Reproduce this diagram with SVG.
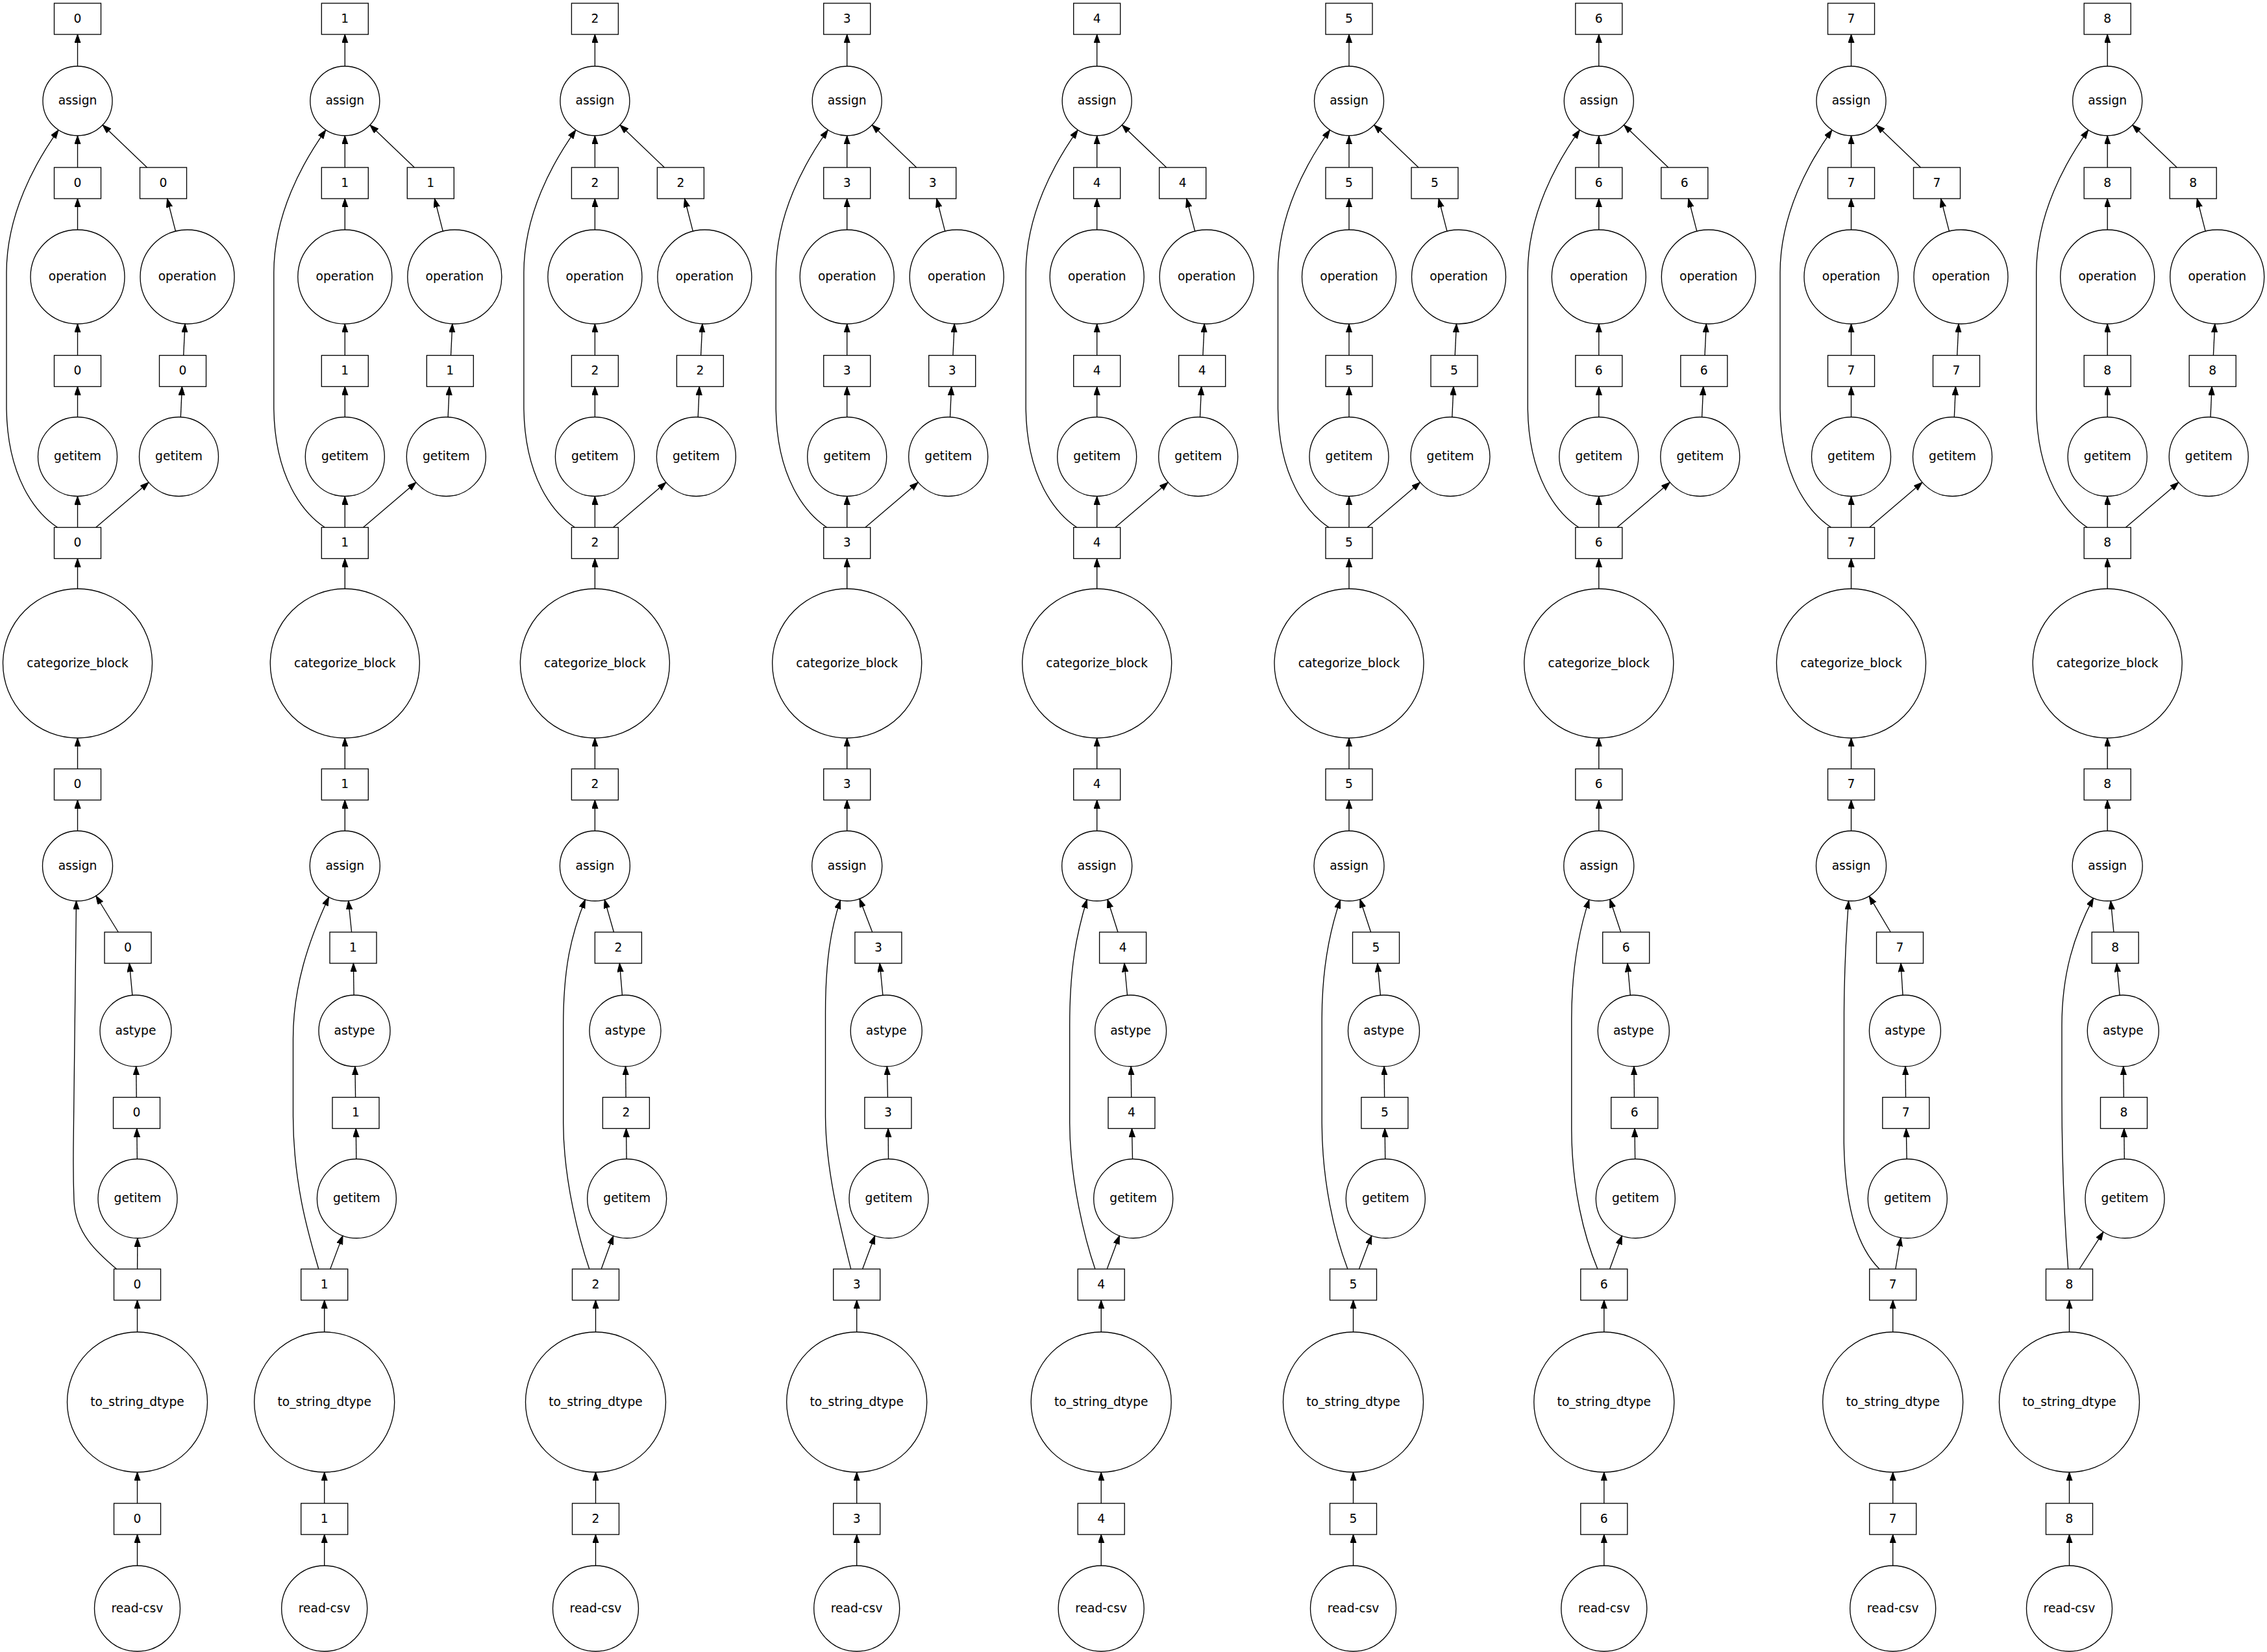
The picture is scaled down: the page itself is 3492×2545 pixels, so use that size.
<svg xmlns="http://www.w3.org/2000/svg" width="3492" height="2545" viewBox="0 0 3492 2545">
<style>
.n rect, .n circle { fill: none; stroke: #000; stroke-width: 1.33; }
.n text { font-family: "DejaVu Sans", "Liberation Sans", sans-serif; font-size: 18.67px; text-anchor: middle; fill: #000; }
#edges path { fill: none; stroke: #000; stroke-width: 1.33; marker-end: url(#ah); }
</style>
<defs>
<marker id="ah" viewBox="0 0 14 10" refX="13.33" refY="4.67" markerWidth="14" markerHeight="10" markerUnits="userSpaceOnUse" orient="auto">
<path d="M0,0 L13.33,4.67 L0,9.33 z" fill="#000" stroke="#000" stroke-width="1"/>
</marker>
<g id="topedges">
<path d="M0,102V53"/>
<path d="M0,258V209"/>
<path d="M0,354V306"/>
<path d="M0,547.5V499"/>
<path d="M0,642.5V595.5"/>
<path d="M0,812.5V764.5"/>
<path d="M0,907V860.5"/>
<path d="M0,1184.5V1137"/>
<path d="M0,1280V1232.5"/>
<path d="M107,258L38.6,192.5"/>
<path d="M151,356.3L138.1,306"/>
<path d="M163.2,547.5L165.5,498.9"/>
<path d="M158.8,642.6L160.9,595.5"/>
<path d="M28.2,812.5L109.6,743.1"/>
<path d="M-31,812.5C-65,790 -108,735 -109.5,630L-109.5,420C-109.5,330 -65,250 -29.5,200.3"/>
</g>
</defs>
<rect x="0" y="0" width="3492" height="2545" fill="#fff"/>

<g id="edges">
<g transform="translate(119.5,0)"><path d="M0,102V53"/><path d="M0,258V209"/><path d="M0,354V306"/><path d="M0,547.5V499"/><path d="M0,642.5V595.5"/><path d="M0,812.5V764.5"/><path d="M0,907V860.5"/><path d="M0,1184.5V1137"/><path d="M0,1280V1232.5"/><path d="M107,258L38.6,192.5"/><path d="M151,356.3L138.1,306"/><path d="M163.2,547.5L165.5,498.9"/><path d="M158.8,642.6L160.9,595.5"/><path d="M28.2,812.5L109.6,743.1"/><path d="M-31,812.5C-65,790 -108,735 -109.5,630L-109.5,420C-109.5,330 -65,250 -29.5,200.3"/></g>
<g transform="translate(531.3,0)"><path d="M0,102V53"/><path d="M0,258V209"/><path d="M0,354V306"/><path d="M0,547.5V499"/><path d="M0,642.5V595.5"/><path d="M0,812.5V764.5"/><path d="M0,907V860.5"/><path d="M0,1184.5V1137"/><path d="M0,1280V1232.5"/><path d="M107,258L38.6,192.5"/><path d="M151,356.3L138.1,306"/><path d="M163.2,547.5L165.5,498.9"/><path d="M158.8,642.6L160.9,595.5"/><path d="M28.2,812.5L109.6,743.1"/><path d="M-31,812.5C-65,790 -108,735 -109.5,630L-109.5,420C-109.5,330 -65,250 -29.5,200.3"/></g>
<g transform="translate(916.4,0)"><path d="M0,102V53"/><path d="M0,258V209"/><path d="M0,354V306"/><path d="M0,547.5V499"/><path d="M0,642.5V595.5"/><path d="M0,812.5V764.5"/><path d="M0,907V860.5"/><path d="M0,1184.5V1137"/><path d="M0,1280V1232.5"/><path d="M107,258L38.6,192.5"/><path d="M151,356.3L138.1,306"/><path d="M163.2,547.5L165.5,498.9"/><path d="M158.8,642.6L160.9,595.5"/><path d="M28.2,812.5L109.6,743.1"/><path d="M-31,812.5C-65,790 -108,735 -109.5,630L-109.5,420C-109.5,330 -65,250 -29.5,200.3"/></g>
<g transform="translate(1304.7,0)"><path d="M0,102V53"/><path d="M0,258V209"/><path d="M0,354V306"/><path d="M0,547.5V499"/><path d="M0,642.5V595.5"/><path d="M0,812.5V764.5"/><path d="M0,907V860.5"/><path d="M0,1184.5V1137"/><path d="M0,1280V1232.5"/><path d="M107,258L38.6,192.5"/><path d="M151,356.3L138.1,306"/><path d="M163.2,547.5L165.5,498.9"/><path d="M158.8,642.6L160.9,595.5"/><path d="M28.2,812.5L109.6,743.1"/><path d="M-31,812.5C-65,790 -108,735 -109.5,630L-109.5,420C-109.5,330 -65,250 -29.5,200.3"/></g>
<g transform="translate(1689.7,0)"><path d="M0,102V53"/><path d="M0,258V209"/><path d="M0,354V306"/><path d="M0,547.5V499"/><path d="M0,642.5V595.5"/><path d="M0,812.5V764.5"/><path d="M0,907V860.5"/><path d="M0,1184.5V1137"/><path d="M0,1280V1232.5"/><path d="M107,258L38.6,192.5"/><path d="M151,356.3L138.1,306"/><path d="M163.2,547.5L165.5,498.9"/><path d="M158.8,642.6L160.9,595.5"/><path d="M28.2,812.5L109.6,743.1"/><path d="M-31,812.5C-65,790 -108,735 -109.5,630L-109.5,420C-109.5,330 -65,250 -29.5,200.3"/></g>
<g transform="translate(2078,0)"><path d="M0,102V53"/><path d="M0,258V209"/><path d="M0,354V306"/><path d="M0,547.5V499"/><path d="M0,642.5V595.5"/><path d="M0,812.5V764.5"/><path d="M0,907V860.5"/><path d="M0,1184.5V1137"/><path d="M0,1280V1232.5"/><path d="M107,258L38.6,192.5"/><path d="M151,356.3L138.1,306"/><path d="M163.2,547.5L165.5,498.9"/><path d="M158.8,642.6L160.9,595.5"/><path d="M28.2,812.5L109.6,743.1"/><path d="M-31,812.5C-65,790 -108,735 -109.5,630L-109.5,420C-109.5,330 -65,250 -29.5,200.3"/></g>
<g transform="translate(2462.8,0)"><path d="M0,102V53"/><path d="M0,258V209"/><path d="M0,354V306"/><path d="M0,547.5V499"/><path d="M0,642.5V595.5"/><path d="M0,812.5V764.5"/><path d="M0,907V860.5"/><path d="M0,1184.5V1137"/><path d="M0,1280V1232.5"/><path d="M107,258L38.6,192.5"/><path d="M151,356.3L138.1,306"/><path d="M163.2,547.5L165.5,498.9"/><path d="M158.8,642.6L160.9,595.5"/><path d="M28.2,812.5L109.6,743.1"/><path d="M-31,812.5C-65,790 -108,735 -109.5,630L-109.5,420C-109.5,330 -65,250 -29.5,200.3"/></g>
<g transform="translate(2851.5,0)"><path d="M0,102V53"/><path d="M0,258V209"/><path d="M0,354V306"/><path d="M0,547.5V499"/><path d="M0,642.5V595.5"/><path d="M0,812.5V764.5"/><path d="M0,907V860.5"/><path d="M0,1184.5V1137"/><path d="M0,1280V1232.5"/><path d="M107,258L38.6,192.5"/><path d="M151,356.3L138.1,306"/><path d="M163.2,547.5L165.5,498.9"/><path d="M158.8,642.6L160.9,595.5"/><path d="M28.2,812.5L109.6,743.1"/><path d="M-31,812.5C-65,790 -108,735 -109.5,630L-109.5,420C-109.5,330 -65,250 -29.5,200.3"/></g>
<g transform="translate(3246.2,0)"><path d="M0,102V53"/><path d="M0,258V209"/><path d="M0,354V306"/><path d="M0,547.5V499"/><path d="M0,642.5V595.5"/><path d="M0,812.5V764.5"/><path d="M0,907V860.5"/><path d="M0,1184.5V1137"/><path d="M0,1280V1232.5"/><path d="M107,258L38.6,192.5"/><path d="M151,356.3L138.1,306"/><path d="M163.2,547.5L165.5,498.9"/><path d="M158.8,642.6L160.9,595.5"/><path d="M28.2,812.5L109.6,743.1"/><path d="M-31,812.5C-65,790 -108,735 -109.5,630L-109.5,420C-109.5,330 -65,250 -29.5,200.3"/></g>

<path d="M182.2,1436L147.8,1380"/>
<path d="M203.9,1533.2L199.3,1484"/>
<path d="M210.2,1690.5L209.7,1643"/>
<path d="M211.3,1785.5L210.8,1738.5"/>
<path d="M211.6,1955L211.8,1907.5"/>
<path d="M211.5,2052V2003"/>
<path d="M211.5,2316V2268"/>
<path d="M211.5,2412V2364"/>
<path d="M179.5,1955C150,1930 116,1900 114,1850C112.5,1810 113,1790 113,1770L117.5,1388"/>

<path d="M541.6,1436L536.7,1387.7"/>
<path d="M545.1,1533L544.4,1484"/>
<path d="M547.6,1690.5L546.9,1643"/>
<path d="M548.8,1785.5L548.3,1738.5"/>
<path d="M508.7,1955L528,1903.6"/>
<path d="M499.7,2052V2003"/>
<path d="M499.7,2316V2268"/>
<path d="M499.7,2412V2364"/>
<path d="M490.8,1955C478,1910 452,1830 451.5,1720L451.5,1600C451.5,1520 475,1450 506.5,1382"/>

<path d="M945.5,1436L931.2,1385.9"/>
<path d="M958.5,1533.2L954.4,1484"/>
<path d="M964.1,1690.5L963.6,1643"/>
<path d="M965.1,1785.5L964.6,1738.5"/>
<path d="M926.2,1955L944.8,1903.8"/>
<path d="M917.5,2052V2003"/>
<path d="M917.5,2316V2268"/>
<path d="M917.5,2412V2364"/>
<path d="M907.8,1955C893,1912 868,1820 867.7,1730L867.7,1580C867.7,1490 880,1440 901.4,1385.9"/>

<path d="M1343.7,1436L1324,1384.4"/>
<path d="M1359.9,1533.3L1355.2,1484"/>
<path d="M1367.4,1690.5L1366.4,1643"/>
<path d="M1368.5,1785.5L1368.1,1738.5"/>
<path d="M1328.6,1955L1347.7,1903.7"/>
<path d="M1319.7,2052V2003"/>
<path d="M1319.7,2316V2268"/>
<path d="M1319.7,2412V2364"/>
<path d="M1310.7,1955C1292,1880 1272,1800 1271.5,1720L1271.5,1560C1271.5,1480 1280,1430 1294.5,1387"/>

<path d="M1722,1436L1706,1385.5"/>
<path d="M1736.5,1533.2L1731.9,1484"/>
<path d="M1742.7,1690.5L1742.2,1643"/>
<path d="M1744.5,1785.5L1743.5,1738.5"/>
<path d="M1705.2,1955L1724.4,1903.6"/>
<path d="M1696.2,2052V2003"/>
<path d="M1696.2,2316V2268"/>
<path d="M1696.2,2412V2364"/>
<path d="M1686.9,1955C1672,1912 1648,1820 1647.7,1730L1647.7,1580C1647.7,1490 1658,1440 1674.3,1385.8"/>

<path d="M2111.6,1436L2094.9,1385.3"/>
<path d="M2126.4,1533.2L2121.8,1484"/>
<path d="M2132.6,1690.5L2132.1,1643"/>
<path d="M2133.7,1785.5L2133.2,1738.5"/>
<path d="M2093.5,1955L2112.8,1903.6"/>
<path d="M2084.5,2052V2003"/>
<path d="M2084.5,2316V2268"/>
<path d="M2084.5,2412V2364"/>
<path d="M2075.9,1955C2055,1900 2036.5,1820 2036.2,1730L2036.2,1570C2036.2,1500 2046,1440 2064.6,1386.3"/>

<path d="M2496.7,1436L2479.8,1385.2"/>
<path d="M2511.3,1533.2L2506.9,1484"/>
<path d="M2517.4,1690.5L2516.9,1643"/>
<path d="M2518.6,1785.5L2518,1738.5"/>
<path d="M2479.6,1955L2498.3,1903.8"/>
<path d="M2470.8,2052V2003"/>
<path d="M2470.8,2316V2268"/>
<path d="M2470.8,2412V2364"/>
<path d="M2460.9,1955C2440,1905 2421,1830 2420.8,1740L2420.8,1570C2420.8,1500 2430,1440 2447.9,1385.9"/>

<path d="M2912.2,1436L2879.1,1380.4"/>
<path d="M2931,1533.1L2928,1484"/>
<path d="M2935.5,1690.5L2935,1643"/>
<path d="M2937.1,1785.5L2936.3,1738.5"/>
<path d="M2919.8,1955L2928,1906.6"/>
<path d="M2915.7,2052V2003"/>
<path d="M2915.7,2316V2268"/>
<path d="M2915.7,2412V2364"/>
<path d="M2895,1955C2865,1925 2842,1870 2840.3,1760L2840.5,1560C2840.8,1500 2843,1450 2847.5,1387.9"/>

<path d="M3255.9,1436L3251.3,1387.8"/>
<path d="M3265.1,1533.2L3260.5,1484"/>
<path d="M3271.3,1690.5L3270.8,1643"/>
<path d="M3272.3,1785.5L3271.8,1738.5"/>
<path d="M3203,1955L3239.9,1897.8"/>
<path d="M3187.5,2052V2003"/>
<path d="M3187.5,2316V2268"/>
<path d="M3187.5,2412V2364"/>
<path d="M3185.7,1955C3180,1880 3176,1780 3176,1690L3176,1580C3176,1500 3195,1440 3224.6,1383.6"/>
</g>

<g id="col0" transform="translate(119.5,0)">
<g id="c0-out" class="n"><rect x="-36" y="5" width="72" height="48"/><text y="34.8">0</text></g>
<g id="c0-assign1" class="n"><circle cy="155.5" r="53.5"/><text y="161.3">assign</text></g>
<g id="c0-k2a" class="n"><rect x="-36" y="258" width="72" height="48"/><text y="287.8">0</text></g>
<g id="c0-k2b" class="n"><rect x="96" y="258" width="72" height="48"/><text x="132" y="287.8">0</text></g>
<g id="c0-op-a" class="n"><circle cy="426.5" r="72.5"/><text y="432.3">operation</text></g>
<g id="c0-op-b" class="n"><circle cx="169" cy="426.5" r="72.5"/><text x="169" y="432.3">operation</text></g>
<g id="c0-k4a" class="n"><rect x="-36" y="547.5" width="72" height="48"/><text y="577.3">0</text></g>
<g id="c0-k4b" class="n"><rect x="126" y="547.5" width="72" height="48"/><text x="162" y="577.3">0</text></g>
<g id="c0-get1a" class="n"><circle cy="703.5" r="61"/><text y="709.3">getitem</text></g>
<g id="c0-get1b" class="n"><circle cx="156" cy="703.5" r="61"/><text x="156" y="709.3">getitem</text></g>
<g id="c0-k6" class="n"><rect x="-36" y="812.5" width="72" height="48"/><text y="842.3">0</text></g>
<g id="c0-cat" class="n"><circle cy="1022" r="115"/><text y="1027.8">categorize_block</text></g>
<g id="c0-k8" class="n"><rect x="-36" y="1184.5" width="72" height="48"/><text y="1214.3">0</text></g>
<g id="c0-assign2" class="n"><circle cy="1334" r="54"/><text y="1339.8">assign</text></g>
<g id="c0-k10" class="n"><rect x="41.5" y="1436" width="72" height="48"/><text x="77.5" y="1465.8">0</text></g>
<g id="c0-astype" class="n"><circle cx="89.5" cy="1588" r="55"/><text x="89.5" y="1593.8">astype</text></g>
<g id="c0-k12" class="n"><rect x="55" y="1690.5" width="72" height="48"/><text x="91" y="1720.3">0</text></g>
<g id="c0-get2" class="n"><circle cx="92.5" cy="1846.5" r="61"/><text x="92.5" y="1852.3">getitem</text></g>
<g id="c0-k14" class="n"><rect x="56" y="1955" width="72" height="48"/><text x="92" y="1984.8">0</text></g>
<g id="c0-tostr" class="n"><circle cx="92" cy="2160" r="108"/><text x="92" y="2165.8">to_string_dtype</text></g>
<g id="c0-k16" class="n"><rect x="56" y="2316" width="72" height="48"/><text x="92" y="2345.8">0</text></g>
<g id="c0-read" class="n"><circle cx="92" cy="2478" r="66"/><text x="92" y="2483.8">read-csv</text></g>
</g>

<g id="col1" transform="translate(531.3,0)">
<g id="c1-out" class="n"><rect x="-36" y="5" width="72" height="48"/><text y="34.8">1</text></g>
<g id="c1-assign1" class="n"><circle cy="155.5" r="53.5"/><text y="161.3">assign</text></g>
<g id="c1-k2a" class="n"><rect x="-36" y="258" width="72" height="48"/><text y="287.8">1</text></g>
<g id="c1-k2b" class="n"><rect x="96" y="258" width="72" height="48"/><text x="132" y="287.8">1</text></g>
<g id="c1-op-a" class="n"><circle cy="426.5" r="72.5"/><text y="432.3">operation</text></g>
<g id="c1-op-b" class="n"><circle cx="169" cy="426.5" r="72.5"/><text x="169" y="432.3">operation</text></g>
<g id="c1-k4a" class="n"><rect x="-36" y="547.5" width="72" height="48"/><text y="577.3">1</text></g>
<g id="c1-k4b" class="n"><rect x="126" y="547.5" width="72" height="48"/><text x="162" y="577.3">1</text></g>
<g id="c1-get1a" class="n"><circle cy="703.5" r="61"/><text y="709.3">getitem</text></g>
<g id="c1-get1b" class="n"><circle cx="156" cy="703.5" r="61"/><text x="156" y="709.3">getitem</text></g>
<g id="c1-k6" class="n"><rect x="-36" y="812.5" width="72" height="48"/><text y="842.3">1</text></g>
<g id="c1-cat" class="n"><circle cy="1022" r="115"/><text y="1027.8">categorize_block</text></g>
<g id="c1-k8" class="n"><rect x="-36" y="1184.5" width="72" height="48"/><text y="1214.3">1</text></g>
<g id="c1-assign2" class="n"><circle cy="1334" r="54"/><text y="1339.8">assign</text></g>
<g id="c1-k10" class="n"><rect x="-23.3" y="1436" width="72" height="48"/><text x="12.7" y="1465.8">1</text></g>
<g id="c1-astype" class="n"><circle cx="14.7" cy="1588" r="55"/><text x="14.7" y="1593.8">astype</text></g>
<g id="c1-k12" class="n"><rect x="-19.3" y="1690.5" width="72" height="48"/><text x="16.7" y="1720.3">1</text></g>
<g id="c1-get2" class="n"><circle cx="18.1" cy="1846.5" r="61"/><text x="18.1" y="1852.3">getitem</text></g>
<g id="c1-k14" class="n"><rect x="-67.6" y="1955" width="72" height="48"/><text x="-31.6" y="1984.8">1</text></g>
<g id="c1-tostr" class="n"><circle cx="-31.6" cy="2160" r="108"/><text x="-31.6" y="2165.8">to_string_dtype</text></g>
<g id="c1-k16" class="n"><rect x="-67.6" y="2316" width="72" height="48"/><text x="-31.6" y="2345.8">1</text></g>
<g id="c1-read" class="n"><circle cx="-31.6" cy="2478" r="66"/><text x="-31.6" y="2483.8">read-csv</text></g>
</g>

<g id="col2" transform="translate(916.4,0)">
<g id="c2-out" class="n"><rect x="-36" y="5" width="72" height="48"/><text y="34.8">2</text></g>
<g id="c2-assign1" class="n"><circle cy="155.5" r="53.5"/><text y="161.3">assign</text></g>
<g id="c2-k2a" class="n"><rect x="-36" y="258" width="72" height="48"/><text y="287.8">2</text></g>
<g id="c2-k2b" class="n"><rect x="96" y="258" width="72" height="48"/><text x="132" y="287.8">2</text></g>
<g id="c2-op-a" class="n"><circle cy="426.5" r="72.5"/><text y="432.3">operation</text></g>
<g id="c2-op-b" class="n"><circle cx="169" cy="426.5" r="72.5"/><text x="169" y="432.3">operation</text></g>
<g id="c2-k4a" class="n"><rect x="-36" y="547.5" width="72" height="48"/><text y="577.3">2</text></g>
<g id="c2-k4b" class="n"><rect x="126" y="547.5" width="72" height="48"/><text x="162" y="577.3">2</text></g>
<g id="c2-get1a" class="n"><circle cy="703.5" r="61"/><text y="709.3">getitem</text></g>
<g id="c2-get1b" class="n"><circle cx="156" cy="703.5" r="61"/><text x="156" y="709.3">getitem</text></g>
<g id="c2-k6" class="n"><rect x="-36" y="812.5" width="72" height="48"/><text y="842.3">2</text></g>
<g id="c2-cat" class="n"><circle cy="1022" r="115"/><text y="1027.8">categorize_block</text></g>
<g id="c2-k8" class="n"><rect x="-36" y="1184.5" width="72" height="48"/><text y="1214.3">2</text></g>
<g id="c2-assign2" class="n"><circle cy="1334" r="54"/><text y="1339.8">assign</text></g>
<g id="c2-k10" class="n"><rect x="0" y="1436" width="72" height="48"/><text x="36" y="1465.8">2</text></g>
<g id="c2-astype" class="n"><circle cx="46.6" cy="1588" r="55"/><text x="46.6" y="1593.8">astype</text></g>
<g id="c2-k12" class="n"><rect x="12" y="1690.5" width="72" height="48"/><text x="48" y="1720.3">2</text></g>
<g id="c2-get2" class="n"><circle cx="49.3" cy="1846.5" r="61"/><text x="49.3" y="1852.3">getitem</text></g>
<g id="c2-k14" class="n"><rect x="-34.9" y="1955" width="72" height="48"/><text x="1.1" y="1984.8">2</text></g>
<g id="c2-tostr" class="n"><circle cx="1.1" cy="2160" r="108"/><text x="1.1" y="2165.8">to_string_dtype</text></g>
<g id="c2-k16" class="n"><rect x="-34.9" y="2316" width="72" height="48"/><text x="1.1" y="2345.8">2</text></g>
<g id="c2-read" class="n"><circle cx="1.1" cy="2478" r="66"/><text x="1.1" y="2483.8">read-csv</text></g>
</g>

<g id="col3" transform="translate(1304.7,0)">
<g id="c3-out" class="n"><rect x="-36" y="5" width="72" height="48"/><text y="34.8">3</text></g>
<g id="c3-assign1" class="n"><circle cy="155.5" r="53.5"/><text y="161.3">assign</text></g>
<g id="c3-k2a" class="n"><rect x="-36" y="258" width="72" height="48"/><text y="287.8">3</text></g>
<g id="c3-k2b" class="n"><rect x="96" y="258" width="72" height="48"/><text x="132" y="287.8">3</text></g>
<g id="c3-op-a" class="n"><circle cy="426.5" r="72.5"/><text y="432.3">operation</text></g>
<g id="c3-op-b" class="n"><circle cx="169" cy="426.5" r="72.5"/><text x="169" y="432.3">operation</text></g>
<g id="c3-k4a" class="n"><rect x="-36" y="547.5" width="72" height="48"/><text y="577.3">3</text></g>
<g id="c3-k4b" class="n"><rect x="126" y="547.5" width="72" height="48"/><text x="162" y="577.3">3</text></g>
<g id="c3-get1a" class="n"><circle cy="703.5" r="61"/><text y="709.3">getitem</text></g>
<g id="c3-get1b" class="n"><circle cx="156" cy="703.5" r="61"/><text x="156" y="709.3">getitem</text></g>
<g id="c3-k6" class="n"><rect x="-36" y="812.5" width="72" height="48"/><text y="842.3">3</text></g>
<g id="c3-cat" class="n"><circle cy="1022" r="115"/><text y="1027.8">categorize_block</text></g>
<g id="c3-k8" class="n"><rect x="-36" y="1184.5" width="72" height="48"/><text y="1214.3">3</text></g>
<g id="c3-assign2" class="n"><circle cy="1334" r="54"/><text y="1339.8">assign</text></g>
<g id="c3-k10" class="n"><rect x="12.2" y="1436" width="72" height="48"/><text x="48.2" y="1465.8">3</text></g>
<g id="c3-astype" class="n"><circle cx="60.5" cy="1588" r="55"/><text x="60.5" y="1593.8">astype</text></g>
<g id="c3-k12" class="n"><rect x="27.2" y="1690.5" width="72" height="48"/><text x="63.2" y="1720.3">3</text></g>
<g id="c3-get2" class="n"><circle cx="64.3" cy="1846.5" r="61"/><text x="64.3" y="1852.3">getitem</text></g>
<g id="c3-k14" class="n"><rect x="-21" y="1955" width="72" height="48"/><text x="15" y="1984.8">3</text></g>
<g id="c3-tostr" class="n"><circle cx="15" cy="2160" r="108"/><text x="15" y="2165.8">to_string_dtype</text></g>
<g id="c3-k16" class="n"><rect x="-21" y="2316" width="72" height="48"/><text x="15" y="2345.8">3</text></g>
<g id="c3-read" class="n"><circle cx="15" cy="2478" r="66"/><text x="15" y="2483.8">read-csv</text></g>
</g>

<g id="col4" transform="translate(1689.7,0)">
<g id="c4-out" class="n"><rect x="-36" y="5" width="72" height="48"/><text y="34.8">4</text></g>
<g id="c4-assign1" class="n"><circle cy="155.5" r="53.5"/><text y="161.3">assign</text></g>
<g id="c4-k2a" class="n"><rect x="-36" y="258" width="72" height="48"/><text y="287.8">4</text></g>
<g id="c4-k2b" class="n"><rect x="96" y="258" width="72" height="48"/><text x="132" y="287.8">4</text></g>
<g id="c4-op-a" class="n"><circle cy="426.5" r="72.5"/><text y="432.3">operation</text></g>
<g id="c4-op-b" class="n"><circle cx="169" cy="426.5" r="72.5"/><text x="169" y="432.3">operation</text></g>
<g id="c4-k4a" class="n"><rect x="-36" y="547.5" width="72" height="48"/><text y="577.3">4</text></g>
<g id="c4-k4b" class="n"><rect x="126" y="547.5" width="72" height="48"/><text x="162" y="577.3">4</text></g>
<g id="c4-get1a" class="n"><circle cy="703.5" r="61"/><text y="709.3">getitem</text></g>
<g id="c4-get1b" class="n"><circle cx="156" cy="703.5" r="61"/><text x="156" y="709.3">getitem</text></g>
<g id="c4-k6" class="n"><rect x="-36" y="812.5" width="72" height="48"/><text y="842.3">4</text></g>
<g id="c4-cat" class="n"><circle cy="1022" r="115"/><text y="1027.8">categorize_block</text></g>
<g id="c4-k8" class="n"><rect x="-36" y="1184.5" width="72" height="48"/><text y="1214.3">4</text></g>
<g id="c4-assign2" class="n"><circle cy="1334" r="54"/><text y="1339.8">assign</text></g>
<g id="c4-k10" class="n"><rect x="3.9" y="1436" width="72" height="48"/><text x="39.9" y="1465.8">4</text></g>
<g id="c4-astype" class="n"><circle cx="51.9" cy="1588" r="55"/><text x="51.9" y="1593.8">astype</text></g>
<g id="c4-k12" class="n"><rect x="17.3" y="1690.5" width="72" height="48"/><text x="53.3" y="1720.3">4</text></g>
<g id="c4-get2" class="n"><circle cx="56" cy="1846.5" r="61"/><text x="56" y="1852.3">getitem</text></g>
<g id="c4-k14" class="n"><rect x="-29.5" y="1955" width="72" height="48"/><text x="6.5" y="1984.8">4</text></g>
<g id="c4-tostr" class="n"><circle cx="6.5" cy="2160" r="108"/><text x="6.5" y="2165.8">to_string_dtype</text></g>
<g id="c4-k16" class="n"><rect x="-29.5" y="2316" width="72" height="48"/><text x="6.5" y="2345.8">4</text></g>
<g id="c4-read" class="n"><circle cx="6.5" cy="2478" r="66"/><text x="6.5" y="2483.8">read-csv</text></g>
</g>

<g id="col5" transform="translate(2078,0)">
<g id="c5-out" class="n"><rect x="-36" y="5" width="72" height="48"/><text y="34.8">5</text></g>
<g id="c5-assign1" class="n"><circle cy="155.5" r="53.5"/><text y="161.3">assign</text></g>
<g id="c5-k2a" class="n"><rect x="-36" y="258" width="72" height="48"/><text y="287.8">5</text></g>
<g id="c5-k2b" class="n"><rect x="96" y="258" width="72" height="48"/><text x="132" y="287.8">5</text></g>
<g id="c5-op-a" class="n"><circle cy="426.5" r="72.5"/><text y="432.3">operation</text></g>
<g id="c5-op-b" class="n"><circle cx="169" cy="426.5" r="72.5"/><text x="169" y="432.3">operation</text></g>
<g id="c5-k4a" class="n"><rect x="-36" y="547.5" width="72" height="48"/><text y="577.3">5</text></g>
<g id="c5-k4b" class="n"><rect x="126" y="547.5" width="72" height="48"/><text x="162" y="577.3">5</text></g>
<g id="c5-get1a" class="n"><circle cy="703.5" r="61"/><text y="709.3">getitem</text></g>
<g id="c5-get1b" class="n"><circle cx="156" cy="703.5" r="61"/><text x="156" y="709.3">getitem</text></g>
<g id="c5-k6" class="n"><rect x="-36" y="812.5" width="72" height="48"/><text y="842.3">5</text></g>
<g id="c5-cat" class="n"><circle cy="1022" r="115"/><text y="1027.8">categorize_block</text></g>
<g id="c5-k8" class="n"><rect x="-36" y="1184.5" width="72" height="48"/><text y="1214.3">5</text></g>
<g id="c5-assign2" class="n"><circle cy="1334" r="54"/><text y="1339.8">assign</text></g>
<g id="c5-k10" class="n"><rect x="5.5" y="1436" width="72" height="48"/><text x="41.5" y="1465.8">5</text></g>
<g id="c5-astype" class="n"><circle cx="53.5" cy="1588" r="55"/><text x="53.5" y="1593.8">astype</text></g>
<g id="c5-k12" class="n"><rect x="18.9" y="1690.5" width="72" height="48"/><text x="54.9" y="1720.3">5</text></g>
<g id="c5-get2" class="n"><circle cx="56.3" cy="1846.5" r="61"/><text x="56.3" y="1852.3">getitem</text></g>
<g id="c5-k14" class="n"><rect x="-29.5" y="1955" width="72" height="48"/><text x="6.5" y="1984.8">5</text></g>
<g id="c5-tostr" class="n"><circle cx="6.5" cy="2160" r="108"/><text x="6.5" y="2165.8">to_string_dtype</text></g>
<g id="c5-k16" class="n"><rect x="-29.5" y="2316" width="72" height="48"/><text x="6.5" y="2345.8">5</text></g>
<g id="c5-read" class="n"><circle cx="6.5" cy="2478" r="66"/><text x="6.5" y="2483.8">read-csv</text></g>
</g>

<g id="col6" transform="translate(2462.8,0)">
<g id="c6-out" class="n"><rect x="-36" y="5" width="72" height="48"/><text y="34.8">6</text></g>
<g id="c6-assign1" class="n"><circle cy="155.5" r="53.5"/><text y="161.3">assign</text></g>
<g id="c6-k2a" class="n"><rect x="-36" y="258" width="72" height="48"/><text y="287.8">6</text></g>
<g id="c6-k2b" class="n"><rect x="96" y="258" width="72" height="48"/><text x="132" y="287.8">6</text></g>
<g id="c6-op-a" class="n"><circle cy="426.5" r="72.5"/><text y="432.3">operation</text></g>
<g id="c6-op-b" class="n"><circle cx="169" cy="426.5" r="72.5"/><text x="169" y="432.3">operation</text></g>
<g id="c6-k4a" class="n"><rect x="-36" y="547.5" width="72" height="48"/><text y="577.3">6</text></g>
<g id="c6-k4b" class="n"><rect x="126" y="547.5" width="72" height="48"/><text x="162" y="577.3">6</text></g>
<g id="c6-get1a" class="n"><circle cy="703.5" r="61"/><text y="709.3">getitem</text></g>
<g id="c6-get1b" class="n"><circle cx="156" cy="703.5" r="61"/><text x="156" y="709.3">getitem</text></g>
<g id="c6-k6" class="n"><rect x="-36" y="812.5" width="72" height="48"/><text y="842.3">6</text></g>
<g id="c6-cat" class="n"><circle cy="1022" r="115"/><text y="1027.8">categorize_block</text></g>
<g id="c6-k8" class="n"><rect x="-36" y="1184.5" width="72" height="48"/><text y="1214.3">6</text></g>
<g id="c6-assign2" class="n"><circle cy="1334" r="54"/><text y="1339.8">assign</text></g>
<g id="c6-k10" class="n"><rect x="5.9" y="1436" width="72" height="48"/><text x="41.9" y="1465.8">6</text></g>
<g id="c6-astype" class="n"><circle cx="53.5" cy="1588" r="55"/><text x="53.5" y="1593.8">astype</text></g>
<g id="c6-k12" class="n"><rect x="18.9" y="1690.5" width="72" height="48"/><text x="54.9" y="1720.3">6</text></g>
<g id="c6-get2" class="n"><circle cx="56.5" cy="1846.5" r="61"/><text x="56.5" y="1852.3">getitem</text></g>
<g id="c6-k14" class="n"><rect x="-28" y="1955" width="72" height="48"/><text x="8" y="1984.8">6</text></g>
<g id="c6-tostr" class="n"><circle cx="8" cy="2160" r="108"/><text x="8" y="2165.8">to_string_dtype</text></g>
<g id="c6-k16" class="n"><rect x="-28" y="2316" width="72" height="48"/><text x="8" y="2345.8">6</text></g>
<g id="c6-read" class="n"><circle cx="8" cy="2478" r="66"/><text x="8" y="2483.8">read-csv</text></g>
</g>

<g id="col7" transform="translate(2851.5,0)">
<g id="c7-out" class="n"><rect x="-36" y="5" width="72" height="48"/><text y="34.8">7</text></g>
<g id="c7-assign1" class="n"><circle cy="155.5" r="53.5"/><text y="161.3">assign</text></g>
<g id="c7-k2a" class="n"><rect x="-36" y="258" width="72" height="48"/><text y="287.8">7</text></g>
<g id="c7-k2b" class="n"><rect x="96" y="258" width="72" height="48"/><text x="132" y="287.8">7</text></g>
<g id="c7-op-a" class="n"><circle cy="426.5" r="72.5"/><text y="432.3">operation</text></g>
<g id="c7-op-b" class="n"><circle cx="169" cy="426.5" r="72.5"/><text x="169" y="432.3">operation</text></g>
<g id="c7-k4a" class="n"><rect x="-36" y="547.5" width="72" height="48"/><text y="577.3">7</text></g>
<g id="c7-k4b" class="n"><rect x="126" y="547.5" width="72" height="48"/><text x="162" y="577.3">7</text></g>
<g id="c7-get1a" class="n"><circle cy="703.5" r="61"/><text y="709.3">getitem</text></g>
<g id="c7-get1b" class="n"><circle cx="156" cy="703.5" r="61"/><text x="156" y="709.3">getitem</text></g>
<g id="c7-k6" class="n"><rect x="-36" y="812.5" width="72" height="48"/><text y="842.3">7</text></g>
<g id="c7-cat" class="n"><circle cy="1022" r="115"/><text y="1027.8">categorize_block</text></g>
<g id="c7-k8" class="n"><rect x="-36" y="1184.5" width="72" height="48"/><text y="1214.3">7</text></g>
<g id="c7-assign2" class="n"><circle cy="1334" r="54"/><text y="1339.8">assign</text></g>
<g id="c7-k10" class="n"><rect x="39" y="1436" width="72" height="48"/><text x="75" y="1465.8">7</text></g>
<g id="c7-astype" class="n"><circle cx="82.9" cy="1588" r="55"/><text x="82.9" y="1593.8">astype</text></g>
<g id="c7-k12" class="n"><rect x="48.3" y="1690.5" width="72" height="48"/><text x="84.3" y="1720.3">7</text></g>
<g id="c7-get2" class="n"><circle cx="86.8" cy="1846.5" r="61"/><text x="86.8" y="1852.3">getitem</text></g>
<g id="c7-k14" class="n"><rect x="28.2" y="1955" width="72" height="48"/><text x="64.2" y="1984.8">7</text></g>
<g id="c7-tostr" class="n"><circle cx="64.2" cy="2160" r="108"/><text x="64.2" y="2165.8">to_string_dtype</text></g>
<g id="c7-k16" class="n"><rect x="28.2" y="2316" width="72" height="48"/><text x="64.2" y="2345.8">7</text></g>
<g id="c7-read" class="n"><circle cx="64.2" cy="2478" r="66"/><text x="64.2" y="2483.8">read-csv</text></g>
</g>

<g id="col8" transform="translate(3246.2,0)">
<g id="c8-out" class="n"><rect x="-36" y="5" width="72" height="48"/><text y="34.8">8</text></g>
<g id="c8-assign1" class="n"><circle cy="155.5" r="53.5"/><text y="161.3">assign</text></g>
<g id="c8-k2a" class="n"><rect x="-36" y="258" width="72" height="48"/><text y="287.8">8</text></g>
<g id="c8-k2b" class="n"><rect x="96" y="258" width="72" height="48"/><text x="132" y="287.8">8</text></g>
<g id="c8-op-a" class="n"><circle cy="426.5" r="72.5"/><text y="432.3">operation</text></g>
<g id="c8-op-b" class="n"><circle cx="169" cy="426.5" r="72.5"/><text x="169" y="432.3">operation</text></g>
<g id="c8-k4a" class="n"><rect x="-36" y="547.5" width="72" height="48"/><text y="577.3">8</text></g>
<g id="c8-k4b" class="n"><rect x="126" y="547.5" width="72" height="48"/><text x="162" y="577.3">8</text></g>
<g id="c8-get1a" class="n"><circle cy="703.5" r="61"/><text y="709.3">getitem</text></g>
<g id="c8-get1b" class="n"><circle cx="156" cy="703.5" r="61"/><text x="156" y="709.3">getitem</text></g>
<g id="c8-k6" class="n"><rect x="-36" y="812.5" width="72" height="48"/><text y="842.3">8</text></g>
<g id="c8-cat" class="n"><circle cy="1022" r="115"/><text y="1027.8">categorize_block</text></g>
<g id="c8-k8" class="n"><rect x="-36" y="1184.5" width="72" height="48"/><text y="1214.3">8</text></g>
<g id="c8-assign2" class="n"><circle cy="1334" r="54"/><text y="1339.8">assign</text></g>
<g id="c8-k10" class="n"><rect x="-24" y="1436" width="72" height="48"/><text x="12" y="1465.8">8</text></g>
<g id="c8-astype" class="n"><circle cx="24.1" cy="1588" r="55"/><text x="24.1" y="1593.8">astype</text></g>
<g id="c8-k12" class="n"><rect x="-10.7" y="1690.5" width="72" height="48"/><text x="25.3" y="1720.3">8</text></g>
<g id="c8-get2" class="n"><circle cx="26.8" cy="1846.5" r="61"/><text x="26.8" y="1852.3">getitem</text></g>
<g id="c8-k14" class="n"><rect x="-94.7" y="1955" width="72" height="48"/><text x="-58.7" y="1984.8">8</text></g>
<g id="c8-tostr" class="n"><circle cx="-58.7" cy="2160" r="108"/><text x="-58.7" y="2165.8">to_string_dtype</text></g>
<g id="c8-k16" class="n"><rect x="-94.7" y="2316" width="72" height="48"/><text x="-58.7" y="2345.8">8</text></g>
<g id="c8-read" class="n"><circle cx="-58.7" cy="2478" r="66"/><text x="-58.7" y="2483.8">read-csv</text></g>
</g>
</svg>
